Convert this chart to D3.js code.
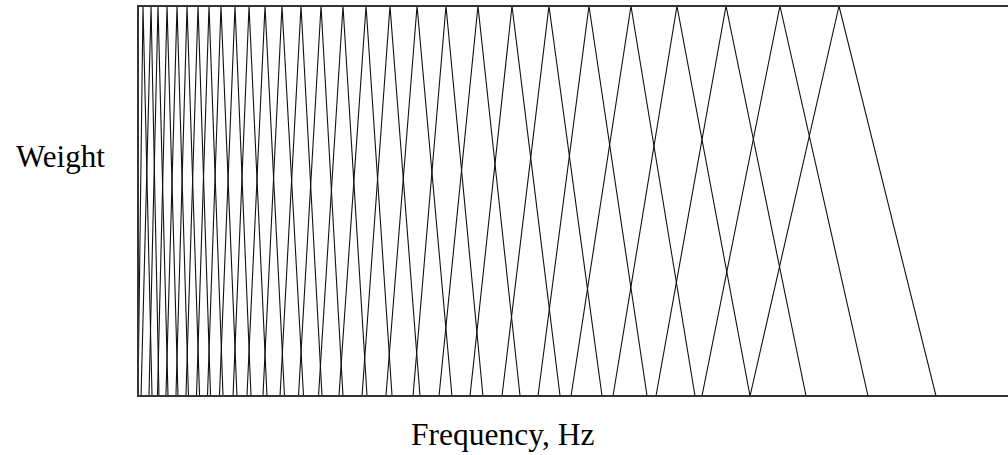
<!DOCTYPE html>
<html>
<head>
<meta charset="utf-8">
<script src="https://cdn.jsdelivr.net/npm/d3@7"></script>
<style>
  html, body { margin: 0; padding: 0; background: #fff; }
  svg { display: block; }
</style>
</head>
<body>
<svg id="chart" width="1008" height="455"></svg>
<script>
// Triangular filter bank: lower edge, centre and upper edge of each filter (Hz)
const lowerEdge = [0, 28, 101, 179, 257, 349, 441, 538, 639, 749, 874, 1002, 1149, 1306, 1476,
  1660, 1848, 2060, 2280, 2529, 2768, 3053, 3347, 3678, 3982, 4368, 4763, 5186, 5628];
const centreFreq = [46, 120, 184, 267, 359, 451, 552, 653, 763, 892, 1021, 1168, 1324, 1499, 1683,
  1885, 2097, 2317, 2566, 2832, 3126, 3439, 3779, 4147, 4533, 4956, 5407, 5903, 6446];
const upperEdge = [129, 193, 276, 368, 464, 566, 667, 782, 910, 1039, 1186, 1347, 1522, 1692, 1885,
  2106, 2336, 2593, 2887, 3172, 3513, 3881, 4267, 4681, 5122, 5628, 6143, 6713, 7338];
const peakWeight = 1;
const freqDomain = [0, 8000];
const weightDomain = [0, 1];

const serif = "'Liberation Serif', 'Times New Roman', 'DejaVu Serif', serif";

const svg = d3.select("#chart");
const plot = { left: 138, right: 1008, top: 6, bottom: 396 };

const x = d3.scaleLinear().domain(freqDomain).range([plot.left, plot.right]);
const y = d3.scaleLinear().domain(weightDomain).range([plot.bottom, plot.top]);

const filters = centreFreq.map((c, i) => [
  [lowerEdge[i], 0], [c, peakWeight], [upperEdge[i], 0]
]);

svg.append("clipPath").attr("id", "plot-clip")
  .append("rect")
  .attr("x", plot.left).attr("y", plot.top)
  .attr("width", plot.right - plot.left).attr("height", plot.bottom - plot.top);

const line = d3.line().x(d => x(d[0])).y(d => y(d[1]));

svg.append("g").attr("clip-path", "url(#plot-clip)")
  .selectAll("path")
  .data(filters)
  .join("path")
  .attr("d", line)
  .attr("fill", "none")
  .attr("stroke", "#111")
  .attr("stroke-width", 1.1);

// Frame: left, top and bottom edges
svg.append("path")
  .attr("d", `M${plot.right + 5},${y(1)}H${x(0)}V${y(0)}H${plot.right + 5}`)
  .attr("fill", "none")
  .attr("stroke", "#333")
  .attr("stroke-width", 2);

svg.append("text")
  .attr("x", 16).attr("y", 167)
  .attr("font-family", serif)
  .attr("font-size", 31)
  .attr("fill", "#000")
  .text("Weight");

svg.append("text")
  .attr("x", 411).attr("y", 445)
  .attr("font-family", serif)
  .attr("font-size", 31.5)
  .attr("fill", "#000")
  .text("Frequency, Hz");
</script>
</body>
</html>
